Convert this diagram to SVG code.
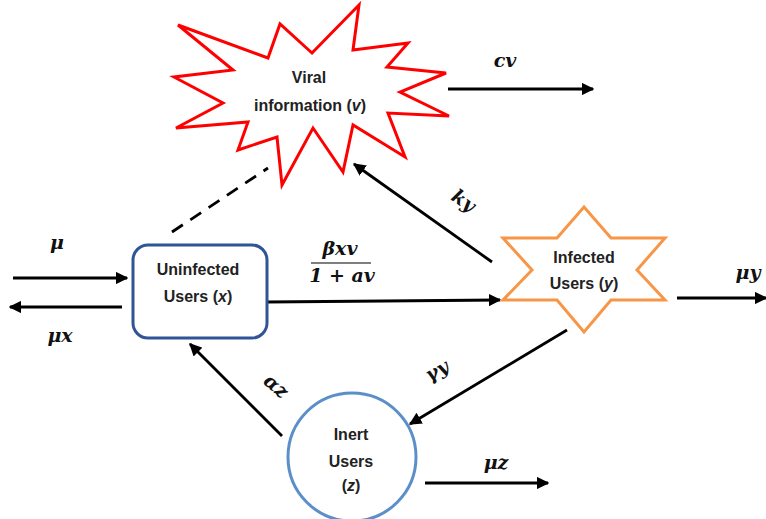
<svg xmlns="http://www.w3.org/2000/svg" width="766" height="519" viewBox="0 0 766 519">
<defs>
<marker id="ah" viewBox="0 0 10 10" refX="9" refY="5" markerWidth="4.5" markerHeight="4.5" orient="auto" markerUnits="strokeWidth">
<path d="M0,0 L10,5 L0,10 z" fill="#000"/>
</marker>
</defs>
<style>
.node{font-family:"Liberation Sans",Arial,sans-serif;font-weight:bold;font-size:16px;fill:#222;text-anchor:middle}
.m{font-family:"DejaVu Serif","Liberation Serif",serif;font-weight:bold;font-style:italic;font-size:19px;fill:#111;text-anchor:middle}
.c{stroke:#000;stroke-width:2.8;fill:none}
.a{marker-end:url(#ah)}
</style>
<rect width="766" height="519" fill="#fff"/>
<g id="connectors">
<line class="c a" x1="13" y1="278" x2="127" y2="278"/>
<line class="c a" x1="122" y1="307" x2="10" y2="307"/>
<line class="c" x1="172" y1="232" x2="268" y2="168" stroke-dasharray="13,9"/>
<line class="c a" x1="267" y1="302" x2="500" y2="300"/>
<line class="c a" x1="492" y1="262" x2="354" y2="164"/>
<line class="c a" x1="448" y1="89" x2="593" y2="89"/>
<line class="c a" x1="677" y1="298" x2="766" y2="298"/>
<line class="c a" x1="567" y1="330" x2="410" y2="424"/>
<line class="c a" x1="282" y1="436" x2="190" y2="344"/>
<line class="c a" x1="425" y1="483" x2="548" y2="483"/>
</g>
<g id="labels">
<text class="m" x="57" y="249">μ</text>
<text class="m" x="60" y="342">μx</text>
<text class="m" x="340" y="255">βxv</text>
<line x1="311" y1="263" x2="371" y2="263" stroke="#555" stroke-width="1.5"/>
<text class="m" x="342" y="282">1 + av</text>
<text class="m" x="0" y="0" transform="translate(460,206) rotate(35)">ky</text>
<text class="m" x="505" y="67">cv</text>
<text class="m" x="748" y="279">μy</text>
<text class="m" x="0" y="0" transform="translate(440,376) rotate(-30)">γy</text>
<text class="m" x="0" y="0" transform="translate(272,391) rotate(40)">αz</text>
<text class="m" x="496" y="469">μz</text>
</g>
<g id="viral">
<polygon points="178,25 268,58 280,24 312,53 359,5 353,50 408,43 387,67 446,73 400,92 449,116 388,113 405,157 353,125 343,172 313,128 282,185 277,137 238,150 248,122 176,128 223,103 174,77 233,70" fill="#fff" stroke="#FF0000" stroke-width="3" stroke-linejoin="miter"/>
<text class="node" x="309" y="83">Viral</text>
<text class="node" x="310" y="111">information (<tspan font-style="italic">v</tspan>)</text>
</g>
<g id="uninfected">
<rect x="133" y="245" width="134" height="93" rx="15" fill="#fff" stroke="#2F5597" stroke-width="3"/>
<text class="node" x="198" y="275">Uninfected</text>
<text class="node" x="198" y="302">Users (<tspan font-style="italic">x</tspan>)</text>
</g>
<g id="infected">
<polygon points="584,207 611,238 665,238 637,270 665,300 611,300 584,332 557,300 503,300 532,270 503,238 557,238" fill="#fff" stroke="#F79646" stroke-width="3"/>
<text class="node" x="584" y="263">Infected</text>
<text class="node" x="584" y="289">Users (<tspan font-style="italic">y</tspan>)</text>
</g>
<g id="inert">
<circle cx="352" cy="457" r="64" fill="#fff" stroke="#5B8FC9" stroke-width="3"/>
<text class="node" x="351" y="440">Inert</text>
<text class="node" x="351" y="467">Users</text>
<text class="node" x="351" y="491">(<tspan font-style="italic">z</tspan>)</text>
</g>
</svg>
